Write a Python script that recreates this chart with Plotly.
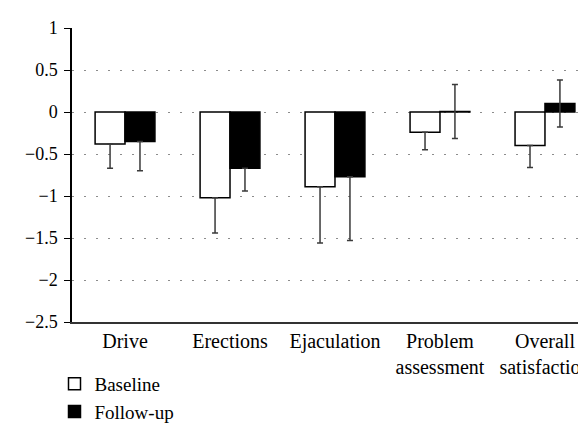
import plotly.graph_objects as go

categories = ["Drive", "Erections", "Ejaculation", "Problem<br>assessment", "Overall<br>satisfaction"]
baseline = [-0.38, -1.02, -0.89, -0.24, -0.40]
baseline_err_minus = [0.29, 0.42, 0.67, 0.21, 0.26]
baseline_err_plus = [0, 0, 0, 0, 0]
followup = [-0.35, -0.67, -0.77, 0.006, 0.10]
followup_err_minus = [0.35, 0.27, 0.76, 0.32, 0.28]
followup_err_plus = [0, 0, 0, 0.32, 0.28]

y_tickvals = [1, 0.5, 0, -0.5, -1, -1.5, -2, -2.5]
y_ticktext = ["1", "0.5", "0", "\u22120.5", "\u22121", "\u22121.5", "\u22122", "\u22122.5"]

FONT = "Liberation Serif"
x_idx = list(range(len(categories)))

fig = go.Figure()
fig.add_trace(go.Bar(
    x=x_idx, y=baseline, name="Baseline",
    marker=dict(color="white", line=dict(color="black", width=1.5)),
    error_y=dict(type="data", symmetric=False, array=baseline_err_plus,
                 arrayminus=baseline_err_minus, color="#3a3a3a", thickness=1.5, width=3),
))
fig.add_trace(go.Bar(
    x=x_idx, y=followup, name="Follow-up",
    marker=dict(color="black", line=dict(color="black", width=1.5)),
    error_y=dict(type="data", symmetric=False, array=followup_err_plus,
                 arrayminus=followup_err_minus, color="#3a3a3a", thickness=1.5, width=3),
))

LEGEND_TOP = 357
fig.update_layout(
    width=586, height=425, autosize=False,
    margin=dict(l=64, r=0, t=20, b=111),
    paper_bgcolor="white", plot_bgcolor="white",
    barmode="group", bargap=0.43, bargroupgap=0,
    font=dict(family=FONT, color="black", size=19),
    showlegend=True,
    legend=dict(
        orientation="h", entrywidth=400, entrywidthmode="pixels",
        xref="container", yref="container",
        x=46.5 / 586, y=1 - LEGEND_TOP / 425, xanchor="left", yanchor="top",
        font=dict(family=FONT, size=19, color="black"),
        bgcolor="rgba(0,0,0,0)",
    ),
    xaxis=dict(
        range=[-0.505, 4.467], tickvals=x_idx, ticktext=categories,
        showgrid=False, zeroline=False, showline=True, linecolor="#333333", linewidth=1.5,
        ticks="", tickangle=0, automargin=False, ticklabeloverflow="allow",
        tickfont=dict(family=FONT, size=20, color="black"),
    ),
    yaxis=dict(
        range=[-2.5, 1], tickvals=y_tickvals, ticktext=y_ticktext,
        showgrid=True, gridcolor="#8c8c8c", gridwidth=1.3, griddash="2px,10px",
        zeroline=False, showline=True, linecolor="black", linewidth=1.5,
        ticks="outside", ticklen=6, tickwidth=1.2, tickcolor="black", automargin=False,
        ticklabelstandoff=3,
        tickfont=dict(family=FONT, size=18, color="black"),
    ),
)

fig.write_html("out.html")
